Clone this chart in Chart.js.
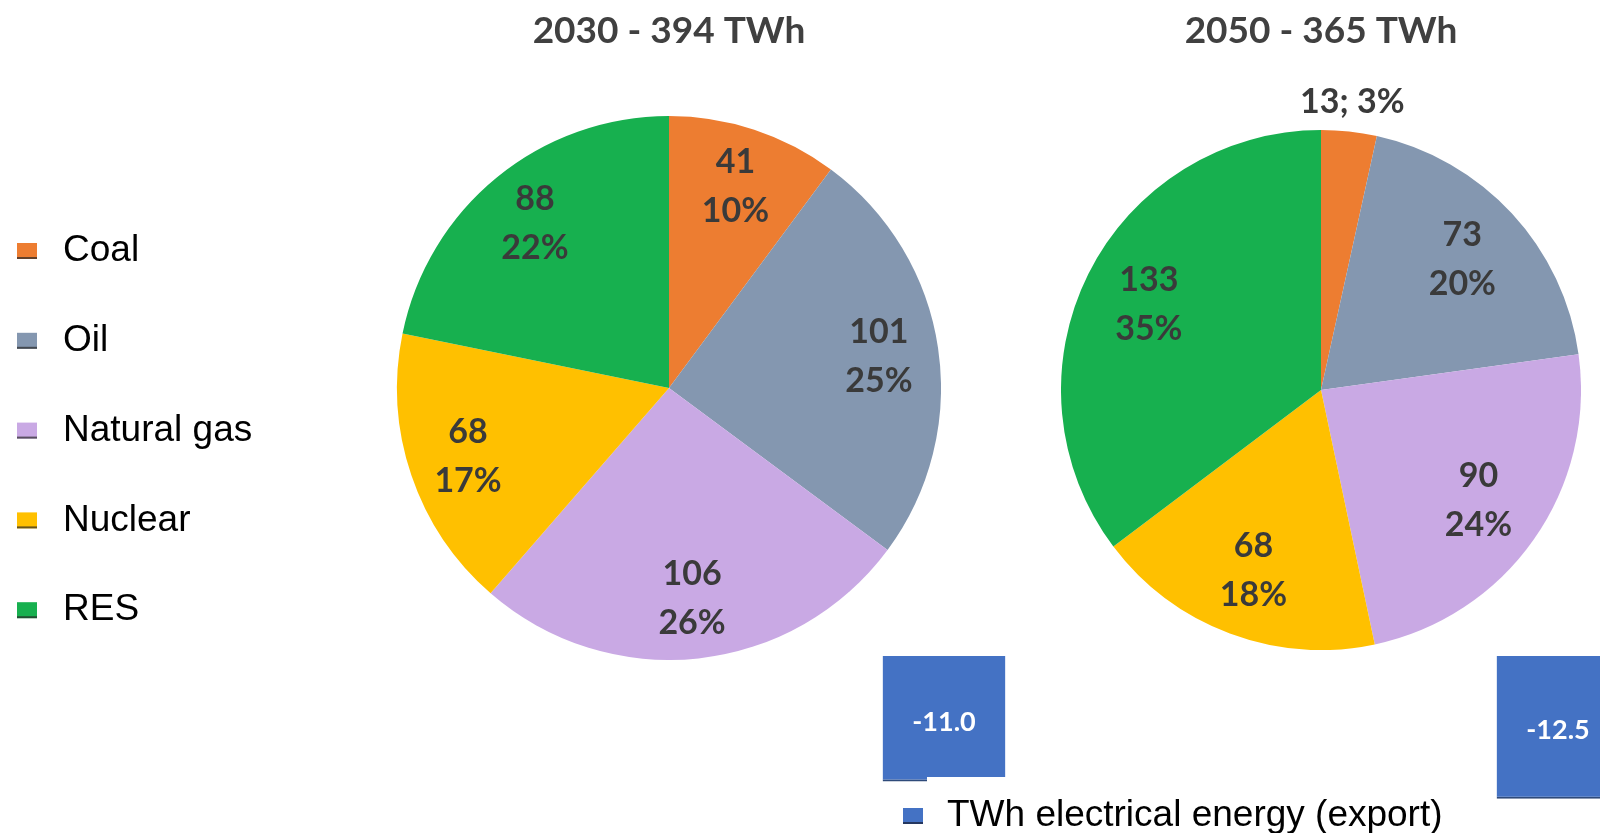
<!DOCTYPE html>
<html>
<head>
<meta charset="utf-8">
<script src="https://cdn.jsdelivr.net/npm/chart.js@4.4.0/dist/chart.umd.min.js"></script>
<style>
  html, body { margin: 0; padding: 0; background: #fff; width: 1600px; height: 833px; overflow: hidden; }
  body { position: relative; }
  canvas { position: absolute; }
  #torta2030 { left: 0; top: 0; }
  #torta2050 { left: 1061px; top: 0; }
  #exportacion { left: 637px; top: 656px; }
</style>
</head>
<body>
<canvas id="torta2030" width="941" height="660"></canvas>
<canvas id="torta2050" width="520" height="650"></canvas>
<canvas id="exportacion" width="1228" height="177"></canvas>
<script>
// Datos
const fuentes = ['Coal', 'Oil', 'Natural gas', 'Nuclear', 'RES'];
const twh2030 = [41, 101, 106, 68, 88];
const pct2030 = [10, 25, 26, 17, 22];
const twh2050 = [13, 73, 90, 68, 133];
const pct2050 = [3, 20, 24, 18, 35];
const titulos = ['2030 - 394 TWh', '2050 - 365 TWh'];
const anios = ['2030', '2050'];
const exportTwh = [-11.0, -12.5];
const etiquetaExport = 'TWh electrical energy (export)';

const colores = ['#ED7D31', '#8497B0', '#C9A9E4', '#FFC000', '#17B04F'];
const azul = '#4472C4';
const gris = '#404040';

// Etiquetas dentro de cada porción (valor y porcentaje).
const etiquetasTorta = {
    id: 'etiquetasTorta',
    afterDatasetsDraw(chart) {
        const ctx = chart.ctx;
        const ds = chart.data.datasets[0];
        const meta = chart.getDatasetMeta(0);
        ctx.save();
        ctx.fillStyle = '#3A3A3A';
        ctx.font = 'bold 34px Lato';
        ctx.textAlign = 'center';
        ctx.textBaseline = 'middle';
        meta.data.forEach((arc, i) => {
            const medio = (arc.startAngle + arc.endAngle) / 2;
            const p = ds.pct[i];
            if (p < 5) {
                // porción chica: etiqueta afuera en una línea
                const d = arc.outerRadius + 30;
                ctx.fillText(ds.data[i] + '; ' + p + '%', arc.x + Math.cos(medio) * d, arc.y + Math.sin(medio) * d);
            } else {
                const d = arc.outerRadius * ds.distEtiqueta;
                const x = arc.x + Math.cos(medio) * d;
                const y = arc.y + Math.sin(medio) * d;
                ctx.fillText(String(ds.data[i]), x, y - 24.5);
                ctx.fillText(p + '%', x, y + 24.5);
            }
        });
        ctx.restore();
    }
};

// Leyenda de la izquierda.
const leyendaFuentes = {
    id: 'leyendaFuentes',
    afterDraw(chart) {
        const ctx = chart.ctx;
        const cols = chart.data.datasets[0].backgroundColor;
        ctx.save();
        ctx.font = '37px "Liberation Sans"';
        ctx.textBaseline = 'middle';
        ctx.textAlign = 'left';
        chart.data.labels.forEach((lab, i) => {
            const y = 251 + i * 89.8;
            ctx.fillStyle = cols[i];
            ctx.fillRect(17, y - 8, 20, 16);
            ctx.fillStyle = 'rgba(40,40,40,0.7)';
            ctx.fillRect(17, y + 6, 20, 2);
            ctx.fillStyle = '#000';
            ctx.fillText(lab, 63, y);
        });
        ctx.restore();
    }
};

// Valores dentro de las barras y leyenda de la exportación.
const valoresBarra = {
    id: 'valoresBarra',
    afterDatasetsDraw(chart) {
        const ctx = chart.ctx;
        const ds = chart.data.datasets[0];
        ctx.save();
        ctx.fillStyle = '#fff';
        ctx.font = 'bold 27px Lato';
        ctx.textAlign = 'center';
        ctx.textBaseline = 'middle';
        chart.getDatasetMeta(0).data.forEach((bar, i) => {
            ctx.fillText(ds.data[i].toFixed(1), bar.x, (bar.y + bar.base) / 2 + 3);
        });
        ctx.fillStyle = '#fff';
        ctx.fillRect(290, 121, 560, 60);
        ctx.fillStyle = azul;
        ctx.fillRect(266, 152, 20, 16);
        ctx.fillStyle = 'rgba(30,40,70,0.8)';
        ctx.fillRect(266, 166, 20, 2);
        ctx.fillStyle = '#000';
        ctx.font = '37px "Liberation Sans"';
        ctx.textAlign = 'left';
        ctx.fillText(ds.label, 310, 160);
        ctx.restore();
    }
};

function crearTorta(id, valores, pct, titulo, padIzq, altoTitulo, dist, extra) {
    const ctx = document.getElementById(id).getContext('2d');
    return new Chart(ctx, {
        type: 'pie',
        data: {
            labels: fuentes,
            datasets: [{
                data: valores,
                pct: pct,
                distEtiqueta: dist,
                backgroundColor: colores,
                borderWidth: 0,
                hoverOffset: 0
            }]
        },
        options: {
            responsive: false,
            animation: false,
            events: [],
            layout: { padding: { left: padIzq } },
            plugins: {
                legend: { display: false },
                tooltip: { enabled: false },
                title: {
                    display: true,
                    text: titulo,
                    color: gris,
                    font: { family: 'Lato', size: 37, weight: 'bold' },
                    padding: { top: 9, bottom: altoTitulo - 9 - 44.4 }
                }
            }
        },
        plugins: [etiquetasTorta].concat(extra)
    });
}

window.onload = function() {
    crearTorta('torta2030', twh2030, pct2030, titulos[0], 397, 116, 0.78, [leyendaFuentes]);
    crearTorta('torta2050', twh2050, pct2050, titulos[1], 0, 130, 0.74, []);

    new Chart(document.getElementById('exportacion').getContext('2d'), {
        type: 'bar',
        data: {
            labels: anios,
            datasets: [{
                label: etiquetaExport,
                data: exportTwh,
                backgroundColor: azul,
                borderColor: '#2E4A7A',
                borderWidth: { bottom: 2 },
                borderSkipped: 'start',
                barPercentage: 0.2,
                categoryPercentage: 1
            }]
        },
        options: {
            responsive: false,
            animation: false,
            events: [],
            layout: { padding: 0 },
            plugins: { legend: { display: false }, tooltip: { enabled: false } },
            scales: {
                x: { display: false },
                y: { display: false, min: -15.5, max: 0 }
            }
        },
        plugins: [valoresBarra]
    });
};
</script>
</body>
</html>
